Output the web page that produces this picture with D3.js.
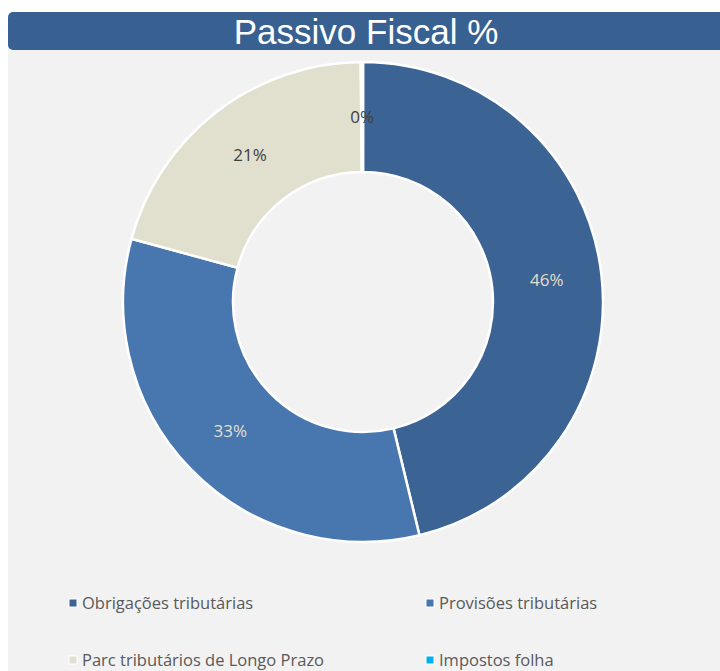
<!DOCTYPE html>
<html>
<head>
<meta charset="utf-8">
<script src="https://cdnjs.cloudflare.com/ajax/libs/d3/7.8.5/d3.min.js"></script>
<style>
  body { margin: 0; background: #ffffff; }
</style>
</head>
<body>
<div id="chart"></div>
<script>
const categories = ["Obrigações tributárias", "Provisões tributárias", "Parc tributários de Longo Prazo", "Impostos folha"];
const values = [46.2, 33.0, 20.6, 0.15];
const colors = ["#3b6494", "#4877b0", "#e1dfcd", "#00b0f0"];
const labelColors = ["#e3dfcc", "#e3dfcc", "#404040", "#404040"];

const W = 720, H = 671;
const cx = 363, cy = 302;
const outerR = 240, innerR = 130;

const svg = d3.select("#chart")
    .append("svg")
    .attr("width", W)
    .attr("height", H);

// panel background
svg.append("rect")
    .attr("x", 8).attr("y", 40)
    .attr("width", W).attr("height", H)
    .attr("fill", "#f2f2f2");

// title bar
svg.append("rect")
    .attr("x", 8).attr("y", 12)
    .attr("width", W + 10).attr("height", 38)
    .attr("rx", 5)
    .attr("fill", "#386192");

svg.append("text")
    .attr("x", 366)
    .attr("y", 44)
    .attr("text-anchor", "middle")
    .style("font-family", "'Liberation Sans', Arial, sans-serif")
    .style("font-size", "35px")
    .attr("fill", "#ffffff")
    .text("Passivo Fiscal %");

const data = categories.map((c, i) => ({ name: c, value: values[i], color: colors[i], lc: labelColors[i] }));
const total = d3.sum(values);

const pie = d3.pie().value(d => d.value).sort(null);
const arc = d3.arc().innerRadius(innerR).outerRadius(outerR);
const labelArc = d3.arc().innerRadius((innerR + outerR) / 2).outerRadius((innerR + outerR) / 2);

const g = svg.append("g").attr("transform", `translate(${cx},${cy})`);

const arcs = pie(data);

g.selectAll("path")
    .data(arcs)
    .enter().append("path")
    .attr("d", arc)
    .attr("fill", d => d.data.color)
    .attr("stroke", "#ffffff")
    .attr("stroke-width", 2.5);

g.selectAll(".lbl")
    .data(arcs)
    .enter().append("text")
    .attr("class", "lbl")
    .attr("transform", d => `translate(${labelArc.centroid(d)})`)
    .attr("text-anchor", "middle")
    .attr("dy", "0.35em")
    .style("font-family", "'Open Sans', sans-serif")
    .style("font-size", "17px")
    .attr("fill", d => d.data.lc)
    .text(d => Math.round(d.data.value / total * 100) + "%");

// legend
const legendPos = [[69, 603], [426, 603], [69, 660], [426, 660]];
const legend = svg.selectAll(".leg")
    .data(data)
    .enter().append("g")
    .attr("class", "leg")
    .attr("transform", (d, i) => `translate(${legendPos[i][0]},${legendPos[i][1]})`);

legend.append("rect")
    .attr("x", 0).attr("y", -4)
    .attr("width", 8).attr("height", 8)
    .attr("fill", d => d.color)
    .attr("stroke", "#ffffff")
    .attr("stroke-width", 1);

legend.append("text")
    .attr("x", 13)
    .attr("y", 0)
    .attr("dy", "0.35em")
    .style("font-family", "'Open Sans', sans-serif")
    .style("font-size", "16.5px")
    .attr("fill", "#595959")
    .text(d => d.name);
</script>
</body>
</html>
